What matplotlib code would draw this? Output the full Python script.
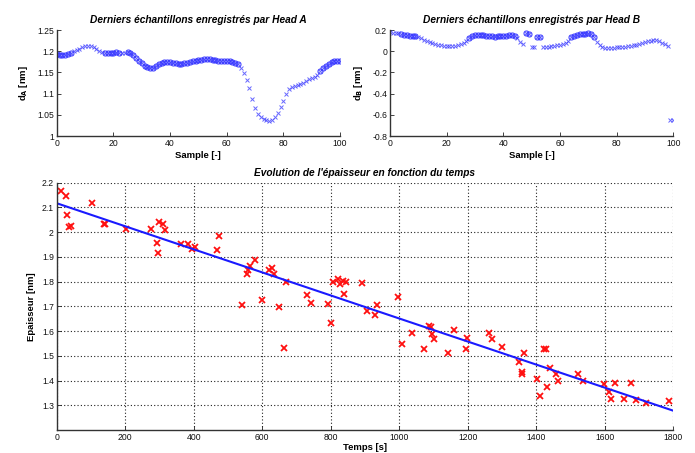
import matplotlib
matplotlib.use("Agg")
import matplotlib.pyplot as plt
import numpy as np

plt.rcParams['font.family'] = ['Liberation Sans', 'DejaVu Sans']

# ---- Head A (samples 0..100) ----
sample = list(range(101))
d_a = [1.193, 1.192, 1.191, 1.192, 1.193, 1.196, 1.200, 1.203, 1.206, 1.209,
       1.212, 1.213, 1.212, 1.209, 1.205, 1.201, 1.198, 1.196, 1.195, 1.195,
       1.196, 1.197, 1.196, 1.195, 1.196, 1.198, 1.195, 1.190, 1.184, 1.178,
       1.172, 1.166, 1.162, 1.161, 1.161, 1.164, 1.169, 1.173, 1.175, 1.175,
       1.174, 1.173, 1.171, 1.170, 1.170, 1.171, 1.172, 1.174, 1.176, 1.177,
       1.179, 1.180, 1.181, 1.181, 1.181, 1.180, 1.179, 1.178, 1.177, 1.177,
       1.177, 1.176, 1.175, 1.173, 1.169, 1.160, 1.148, 1.133, 1.113, 1.087,
       1.067, 1.053, 1.045, 1.040, 1.037, 1.036, 1.038, 1.044, 1.055, 1.068,
       1.083, 1.100, 1.112, 1.115, 1.117, 1.120, 1.123, 1.126, 1.130, 1.134,
       1.136, 1.139, 1.143, 1.153, 1.160, 1.165, 1.170, 1.174, 1.177, 1.178,
       1.176]
dense_a = [1]*6 + [0]*11 + [1]*6 + [0]*2 + [1]*40 + [0]*28 + [1]*8

# ---- Head B (samples 0..100) ----
d_b = [0.180, 0.175, 0.172, 0.168, 0.162, 0.155, 0.150, 0.145, 0.145, 0.148,
       0.135, 0.120, 0.110, 0.095, 0.085, 0.078, 0.070, 0.063, 0.057, 0.053,
       0.050, 0.050, 0.050, 0.053, 0.058, 0.068, 0.080, 0.100, 0.125, 0.140,
       0.150, 0.155, 0.155, 0.152, 0.148, 0.143, 0.140, 0.138, 0.140, 0.142,
       0.145, 0.148, 0.150, 0.152, 0.145, 0.120, 0.090, 0.070, 0.172, 0.160,
       0.040, 0.040, 0.138, 0.135, 0.040, 0.040, 0.042, 0.045, 0.050, 0.055,
       0.060, 0.070, 0.080, 0.095, 0.130, 0.148, 0.155, 0.158, 0.160, 0.165,
       0.170, 0.160, 0.130, 0.090, 0.060, 0.040, 0.030, 0.028, 0.030, 0.032,
       0.035, 0.037, 0.040, 0.043, 0.046, 0.050, 0.055, 0.062, 0.070, 0.078,
       0.085, 0.092, 0.100, 0.105, 0.105, 0.095, 0.080, 0.065, 0.048, -0.645,
       -0.645]
dense_b = ([0]*4 + [1]*6 + [0]*18 + [1]*17 + [0]*3 + [1]*2 + [0]*2 + [1]*2
           + [0]*10 + [1]*9 + [0]*28)

# ---- Thickness vs time ----
temps = [12, 27, 31, 36, 41, 104, 139, 141, 201, 276, 292, 296, 300, 311, 315,
         363, 382, 396, 404, 468, 475, 540, 556, 559, 565, 580, 598, 619, 629,
         633, 648, 664, 668, 731, 742, 792, 801, 806, 822, 827, 835, 838, 845,
         892, 906, 930, 935, 996, 1009, 1037, 1073, 1087, 1092, 1095, 1102,
         1141, 1160, 1195, 1197, 1262, 1270, 1301, 1349, 1357, 1359, 1363,
         1402, 1412, 1424, 1429, 1431, 1441, 1457, 1462, 1523, 1537, 1598,
         1612, 1617, 1631, 1656, 1677, 1691, 1721, 1788]
epaisseur = [2.166, 2.145, 2.070, 2.020, 2.026, 2.117, 2.034, 2.032, 2.014,
             2.011, 1.957, 1.917, 2.043, 2.032, 2.008, 1.951, 1.951, 1.931,
             1.941, 1.929, 1.986, 1.706, 1.830, 1.847, 1.864, 1.886, 1.726,
             1.848, 1.857, 1.831, 1.697, 1.532, 1.797, 1.745, 1.712, 1.710,
             1.633, 1.798, 1.810, 1.790, 1.802, 1.748, 1.800, 1.793, 1.681,
             1.665, 1.704, 1.739, 1.547, 1.593, 1.528, 1.619, 1.615, 1.588,
             1.567, 1.512, 1.604, 1.529, 1.572, 1.593, 1.569, 1.535, 1.476,
             1.435, 1.425, 1.513, 1.407, 1.337, 1.527, 1.527, 1.372, 1.451,
             1.428, 1.399, 1.428, 1.399, 1.387, 1.355, 1.324, 1.391, 1.327,
             1.391, 1.321, 1.308, 1.317]
fit_t = [0, 1800]
fit_y = [2.117, 1.278]

W, H = 695, 453
fig = plt.figure(figsize=(W / 100, H / 100), dpi=100)

def box(l, t, r, b):
    return [l / W, 1 - b / H, (r - l) / W, (b - t) / H]

tick_fs = 6.2
lab_fs = 6.8
title_fs = 7.3
blue = '#3535ff'

def style(ax):
    for s in ['top', 'right']:
        ax.spines[s].set_visible(False)
    for s in ['left', 'bottom']:
        ax.spines[s].set_linewidth(1.0)
        ax.spines[s].set_color('#333333')
    ax.tick_params(direction='in', length=3, width=0.6, labelsize=tick_fs,
                   pad=2, colors='#222222', labelcolor='#111111')

def head_plot(ax, x, y, dense, color):
    x = np.asarray(x); y = np.asarray(y); d = np.asarray(dense, bool)
    ax.plot(x, y, 'x', color=color, ms=2.6, mew=0.7, alpha=0.75, ls='none')
    ax.plot(x[d], y[d], 'o', mfc='none', mec=color, ms=3.6, mew=0.9,
            alpha=0.8, ls='none')

# Top-left
ax1 = fig.add_axes(box(56.7, 30, 340, 136))
style(ax1)
head_plot(ax1, sample, d_a, dense_a, blue)
ax1.set_xlim(0, 100)
ax1.set_ylim(1.0, 1.25)
ax1.set_xticks([0, 20, 40, 60, 80, 100])
ax1.set_yticks([1, 1.05, 1.1, 1.15, 1.2, 1.25])
ax1.set_yticklabels(['1', '1.05', '1.1', '1.15', '1.2', '1.25'])
ax1.set_title('Derniers échantillons enregistrés par Head A', fontsize=title_fs,
              fontweight='bold', style='italic', pad=5)
ax1.set_xlabel('Sample [-]', fontsize=lab_fs, fontweight='bold', labelpad=2)
ax1.set_ylabel(r'd$_{\mathbf{A}}$ [nm]', fontsize=lab_fs, fontweight='bold',
               labelpad=5)

# Top-right
ax2 = fig.add_axes(box(390, 30, 673.3, 136))
style(ax2)
head_plot(ax2, sample, d_b, dense_b, blue)
ax2.set_xlim(0, 100)
ax2.set_ylim(-0.8, 0.2)
ax2.set_xticks([0, 20, 40, 60, 80, 100])
ax2.set_yticks([-0.8, -0.6, -0.4, -0.2, 0, 0.2])
ax2.set_yticklabels(['-0.8', '-0.6', '-0.4', '-0.2', '0', '0.2'])
ax2.set_title('Derniers échantillons enregistrés par Head B', fontsize=title_fs,
              fontweight='bold', style='italic', pad=5)
ax2.set_xlabel('Sample [-]', fontsize=lab_fs, fontweight='bold', labelpad=2)
ax2.set_ylabel(r'd$_{\mathbf{B}}$ [nm]', fontsize=lab_fs, fontweight='bold',
               labelpad=5)

# Bottom
ax3 = fig.add_axes(box(56.7, 182.7, 673.3, 430))
style(ax3)
ax3.set_xlim(0, 1800)
ax3.set_ylim(1.2, 2.2)
ax3.set_xticks(range(0, 1801, 200))
ax3.set_yticks([1.3, 1.4, 1.5, 1.6, 1.7, 1.8, 1.9, 2.0, 2.1, 2.2])
ax3.set_yticklabels(['1.3', '1.4', '1.5', '1.6', '1.7', '1.8', '1.9', '2', '2.1', '2.2'])
ax3.grid(True, ls=(0, (1, 2)), color='#222222', lw=0.8)
ax3.set_axisbelow(True)
ax3.plot(temps, epaisseur, 'x', color='#ff1010', ms=3.8, mew=1.3, ls='none')
ax3.plot(fit_t, fit_y, '-', color='#1a1aff', lw=1.5)
ax3.set_title("Evolution de l'épaisseur en fonction du temps", fontsize=title_fs,
              fontweight='bold', style='italic', pad=5)
ax3.set_xlabel('Temps [s]', fontsize=lab_fs, fontweight='bold', labelpad=1)
ax3.set_ylabel('Epaisseur [nm]', fontsize=lab_fs, fontweight='bold', labelpad=4)

fig.savefig('out.png', dpi=100)
